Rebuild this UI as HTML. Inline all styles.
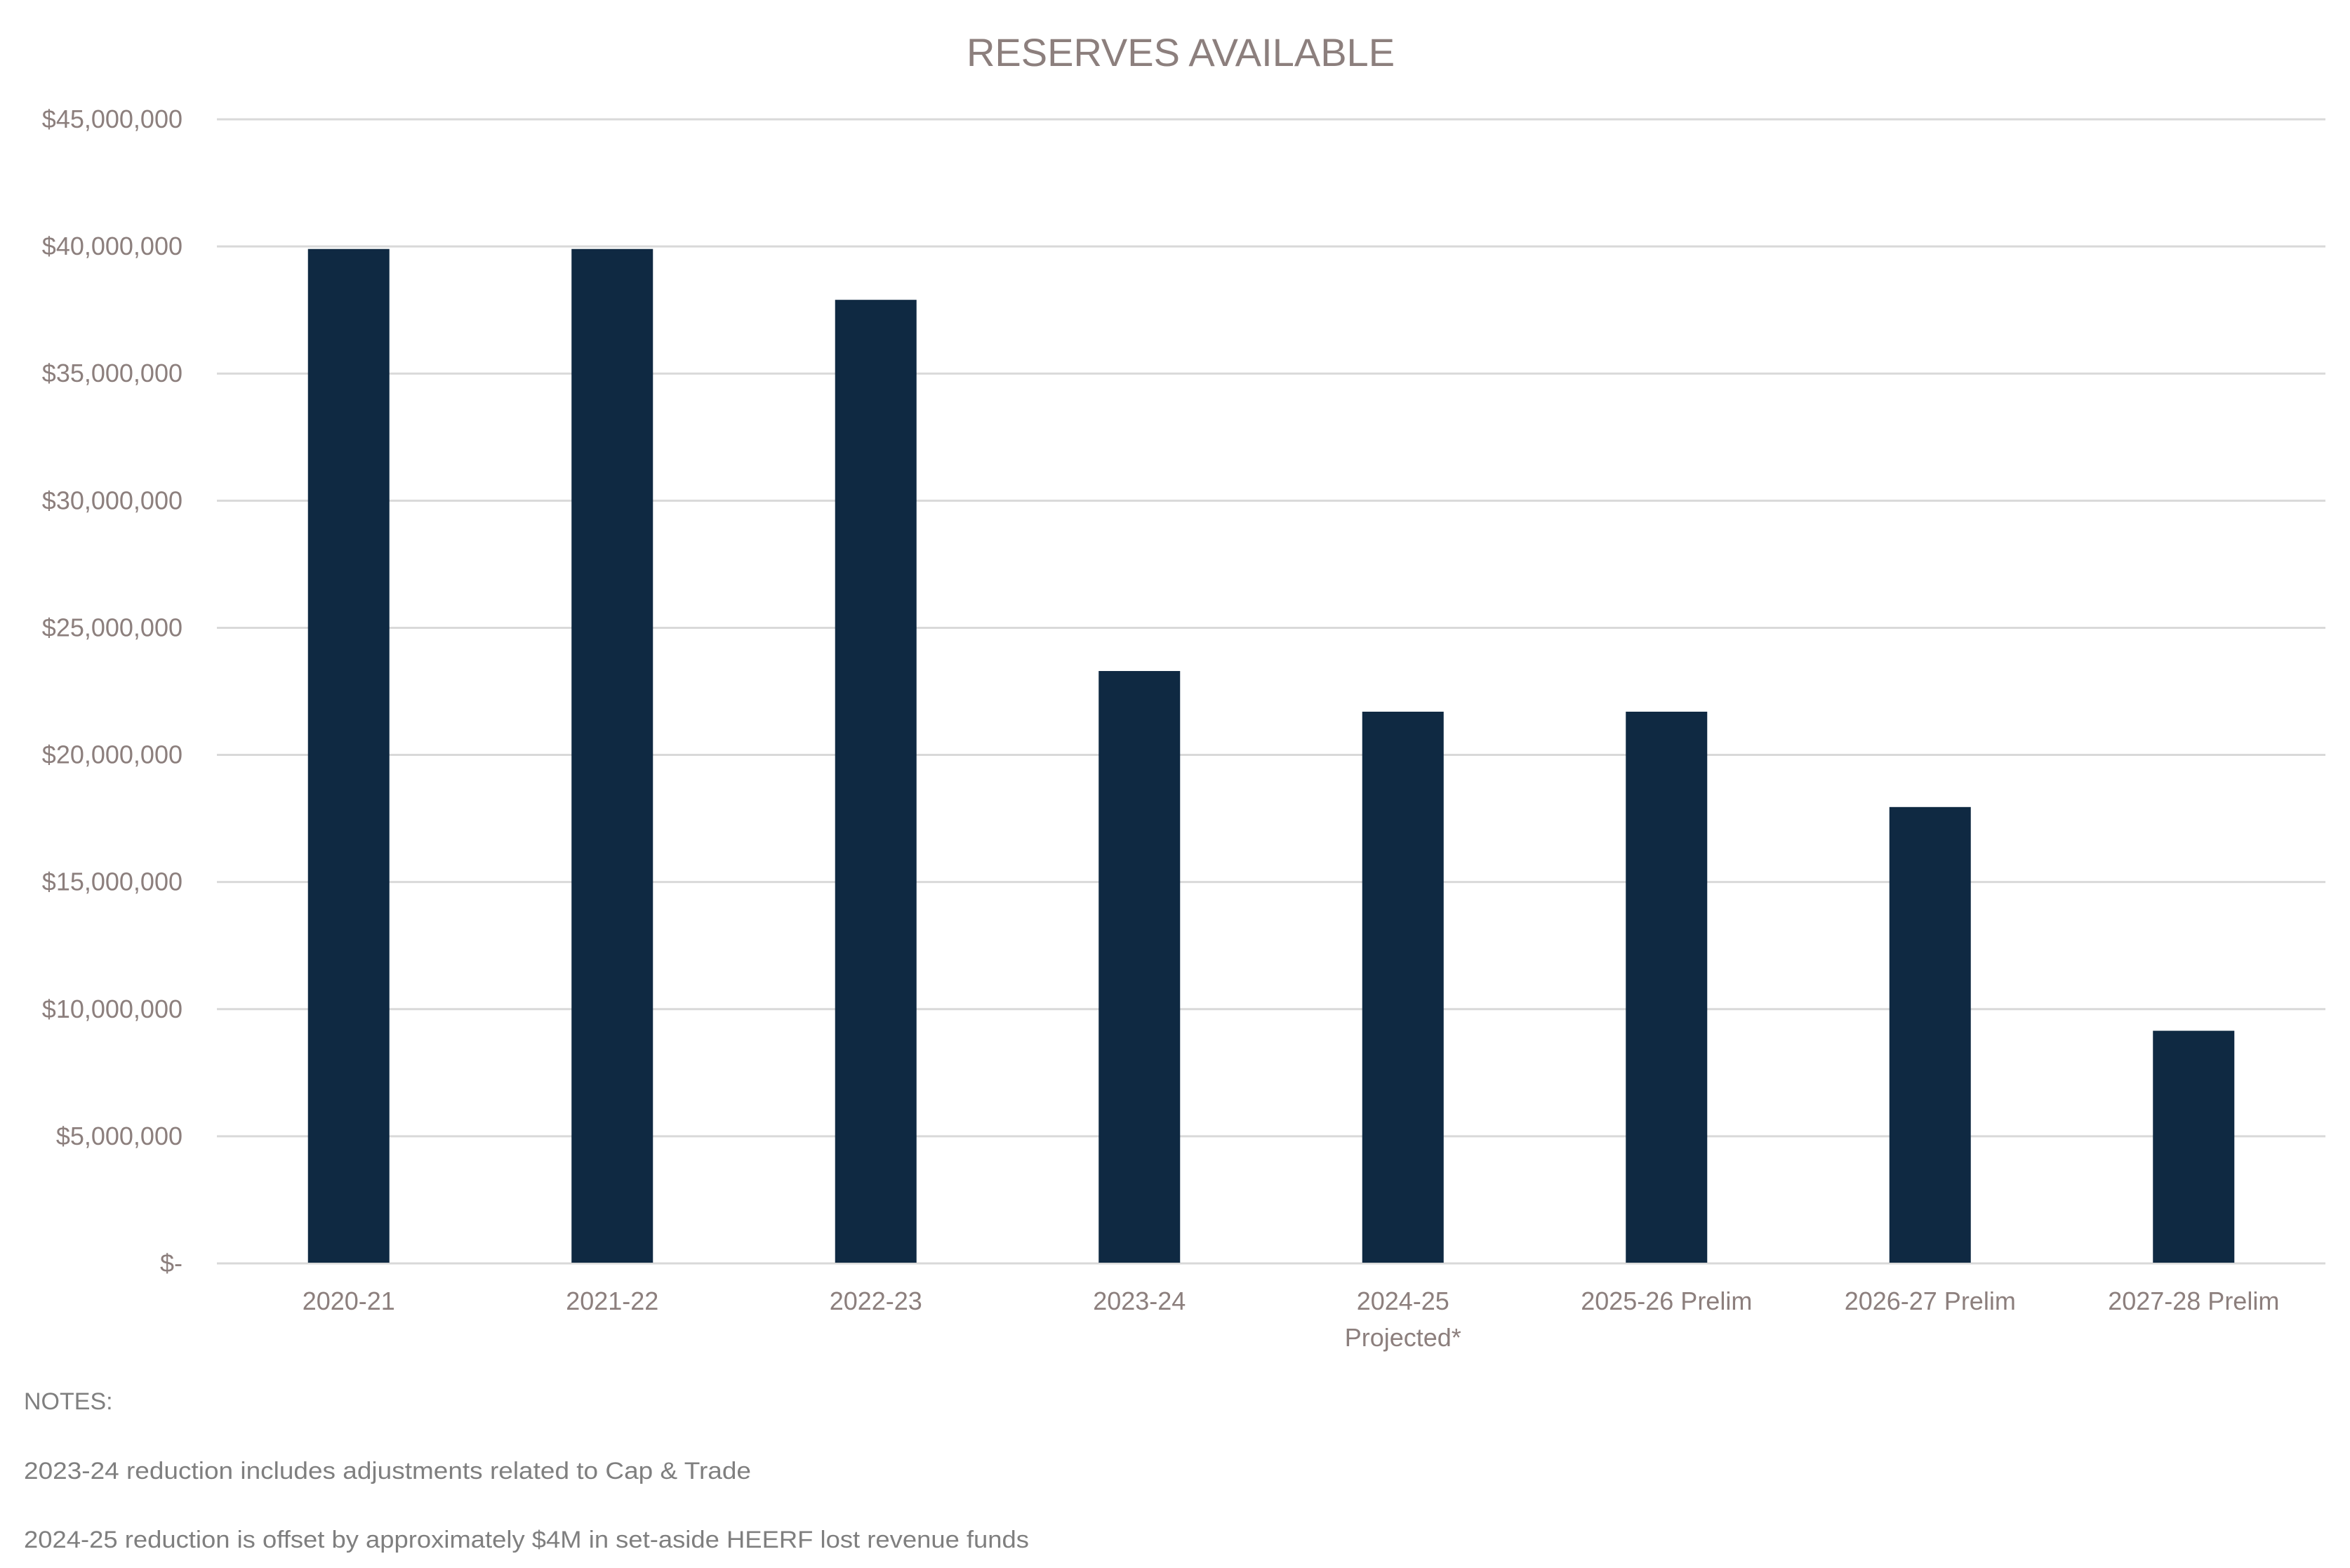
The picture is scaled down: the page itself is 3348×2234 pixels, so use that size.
<!DOCTYPE html>
<html><head><meta charset="utf-8"><style>
html,body{margin:0;padding:0;background:#fff}
svg{display:block}
text{font-family:"Liberation Sans",sans-serif}
</style></head><body>
<svg id="chart" width="3348" height="2234" viewBox="0 0 3348 2234" xmlns="http://www.w3.org/2000/svg">
<text x="1682" y="94" font-size="56" fill="#8c7f7d" text-anchor="middle">RESERVES AVAILABLE</text>
<g id="grid"></g><g id="bars"></g><g id="ylabels"></g><g id="xlabels"></g>
<g font-size="34" fill="#7f7f7f">
<text x="34" y="2008">NOTES:</text>
<text x="34" y="2107" textLength="1036" lengthAdjust="spacingAndGlyphs">2023-24 reduction includes adjustments related to Cap &amp; Trade</text>
<text x="34" y="2205" textLength="1432" lengthAdjust="spacingAndGlyphs">2024-25 reduction is offset by approximately $4M in set-aside HEERF lost revenue funds</text>
</g>
</svg>
<script>
const categories = [["2020-21"],["2021-22"],["2022-23"],["2023-24"],["2024-25","Projected*"],["2025-26 Prelim"],["2026-27 Prelim"],["2027-28 Prelim"]];
const values = [39900000,39900000,37900000,23300000,21700000,21700000,17950000,9150000];
const yTicks = [0,5000000,10000000,15000000,20000000,25000000,30000000,35000000,40000000,45000000];
const yTickLabels = ["$-","$5,000,000","$10,000,000","$15,000,000","$20,000,000","$25,000,000","$30,000,000","$35,000,000","$40,000,000","$45,000,000"];

const NS="http://www.w3.org/2000/svg";
const plotLeft=309,plotRight=3313,plotTop=170,plotBottom=1800,yMax=45000000;
const yScale=v=>plotBottom-(v/yMax)*(plotBottom-plotTop);
const band=(plotRight-plotLeft)/categories.length;
const xScale=i=>plotLeft+band*(i+0.5);
const barW=116;
function mk(tag,parent,attrs){const e=document.createElementNS(NS,tag);for(const k in attrs)e.setAttribute(k,attrs[k]);parent.appendChild(e);return e;}
const gridG=document.getElementById('grid'),barsG=document.getElementById('bars'),ylG=document.getElementById('ylabels'),xlG=document.getElementById('xlabels');
yTicks.forEach((t,i)=>{
  const l=mk('line',gridG,{x1:plotLeft,x2:plotRight,y1:yScale(t),y2:yScale(t),stroke:'#d9d9d9','stroke-width':3});
  
  
  const tx=mk('text',ylG,{x:260,y:yScale(t)+12,'font-size':36,fill:'#8c7f7d','text-anchor':'end'});
  tx.textContent=yTickLabels[i];
  
  
});
values.forEach((v,i)=>{
  const r=mk('rect',barsG,{x:xScale(i)-barW/2,y:yScale(v),width:barW,height:plotBottom-yScale(v)-1,fill:'#0f2942'});
  
  
});
categories.forEach((c,i)=>{
  c.forEach((line,j)=>{
    const tx=mk('text',xlG,{x:xScale(i),y:1866+j*52,'font-size':36,fill:'#8c7f7d','text-anchor':'middle'});
    tx.textContent=line;
    
    
  });
});
</script>
</body></html>
